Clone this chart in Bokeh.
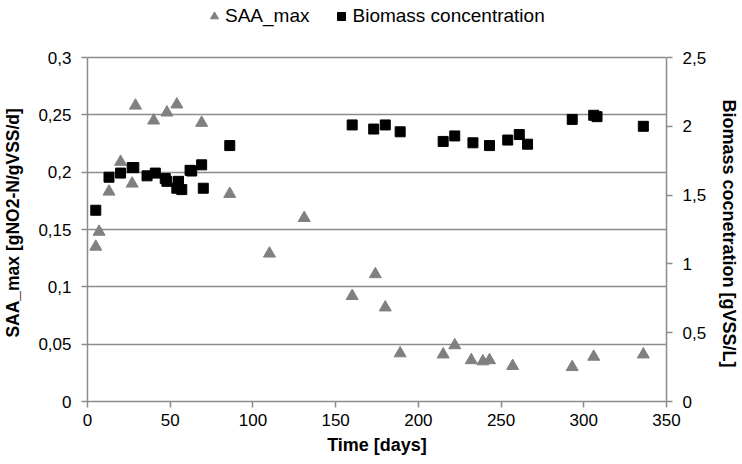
from bokeh.plotting import figure
from bokeh.models import (Range1d, LinearAxis, FixedTicker, CustomJSTickFormatter,
                          Legend, LegendItem, ColumnDataSource)
from bokeh.embed import file_html
from bokeh.resources import INLINE

# ---- data ----
saa_days = [5, 7, 13, 20, 27, 29, 40, 48, 54, 69, 86, 110, 131, 160, 174, 180,
            189, 215, 222, 232, 239, 243, 257, 293, 306, 336]
saa_vals = [0.135, 0.148, 0.183, 0.209, 0.190, 0.258, 0.245, 0.252, 0.259, 0.243,
            0.181, 0.129, 0.160, 0.092, 0.111, 0.082, 0.042, 0.041, 0.049, 0.036,
            0.035, 0.036, 0.031, 0.030, 0.039, 0.041]

bio_days = [5, 13, 20, 27, 28, 36, 41, 47, 48, 54, 55, 57, 62, 63, 69, 70, 86,
            160, 173, 180, 189, 215, 222, 233, 243, 254, 261, 266, 293, 306, 308, 336]
bio_vals = [1.39, 1.63, 1.66, 1.70, 1.70, 1.64, 1.66, 1.62, 1.60, 1.55, 1.60, 1.54,
            1.68, 1.675, 1.72, 1.55, 1.86, 2.01, 1.98, 2.01, 1.96, 1.89, 1.93, 1.88,
            1.86, 1.90, 1.94, 1.87, 2.05, 2.08, 2.07, 2.00]

x_ticks = [0, 50, 100, 150, 200, 250, 300, 350]
left_ticks = [0, 0.05, 0.1, 0.15, 0.2, 0.25, 0.3]
right_ticks = [0, 0.5, 1, 1.5, 2, 2.5]
LEFT_MAX, RIGHT_MAX = 0.3, 2.5

FONT = "Liberation Sans"
GRAY = "#8c8c8c"
NB = "\u00a0"

# frame spans the full height above the x axis (room for the legend);
# the axes are bounded to their data ranges.
FRAME_H, AXIS_H = 401, 344
head = FRAME_H / AXIS_H

p = figure(width=742, height=464, x_range=Range1d(0, 350),
           y_range=Range1d(0, LEFT_MAX * head),
           output_backend="svg", toolbar_location=None,
           min_border_left=87, min_border_right=76, min_border_top=0, min_border_bottom=63)
p.extra_y_ranges = {"right": Range1d(0, RIGHT_MAX * head)}
p.outline_line_color = None
p.background_fill_color = "white"

fmt = CustomJSTickFormatter(code="return String(Math.round(tick*100)/100).replace('.', ',');")

def style_axis(ax):
    ax.axis_line_color = GRAY
    ax.axis_line_width = 1.5
    ax.major_tick_line_color = GRAY
    ax.major_tick_line_width = 1.5
    ax.major_tick_out = 6
    ax.major_tick_in = 0
    ax.minor_tick_line_color = None
    ax.major_label_text_font = FONT
    ax.major_label_text_font_size = "17px"
    ax.major_label_text_color = "black"
    ax.axis_label_text_font = FONT
    ax.axis_label_text_font_size = "17.5px"
    ax.axis_label_text_font_style = "bold"
    ax.axis_label_text_color = "black"

# x axis
xa = p.xaxis[0]
xa.ticker = FixedTicker(ticks=x_ticks)
xa.axis_label = "Time [days]"
style_axis(xa)
xa.axis_label_text_font_size = "18px"
xa.major_label_standoff = 6
xa.axis_label_standoff = 6

# left axis (trailing no-break spaces move the centred title down to the axis centre)
ya = p.yaxis[0]
ya.ticker = FixedTicker(ticks=left_ticks)
ya.formatter = fmt
ya.bounds = (0, LEFT_MAX)
ya.axis_label = "SAA_max [gNO2-N/gVSS/d]" + NB * 9
style_axis(ya)
ya.major_label_standoff = 10
ya.axis_label_standoff = 12

# right axis (leading no-break spaces move the centred title down to the axis centre)
ra = LinearAxis(y_range_name="right", ticker=FixedTicker(ticks=right_ticks), formatter=fmt,
                bounds=(0, RIGHT_MAX),
                axis_label=NB * 13 + "Biomass cocnetration [gVSS/L]")
style_axis(ra)
ra.axis_label_text_font_size = "18px"
ra.major_label_standoff = 10
ra.axis_label_standoff = 10
p.add_layout(ra, "right")

p.xgrid.grid_line_color = None
p.ygrid.ticker = FixedTicker(ticks=left_ticks)
p.ygrid.grid_line_color = GRAY
p.ygrid.grid_line_width = 1.5

src_saa = ColumnDataSource(dict(x=saa_days, y=saa_vals))
src_bio = ColumnDataSource(dict(x=bio_days, y=bio_vals))

r1 = p.scatter("x", "y", source=src_saa, marker="triangle", size=12,
               fill_color="#808080", line_color="#808080")
r2 = p.scatter("x", "y", source=src_bio, marker="square", size=10,
               fill_color="black", line_color="black", y_range_name="right")

legend = Legend(items=[LegendItem(label="SAA_max", renderers=[r1]),
                       LegendItem(label="Biomass concentration", renderers=[r2])],
                orientation="horizontal", location=(117, 374),
                padding=0, margin=0, spacing=22, label_standoff=1,
                glyph_width=20, glyph_height=20, label_height=20,
                border_line_color=None, background_fill_alpha=0,
                label_text_font=FONT, label_text_font_size="19px", label_text_color="black")
p.add_layout(legend)

open("out.html", "w").write(file_html(p, INLINE))
